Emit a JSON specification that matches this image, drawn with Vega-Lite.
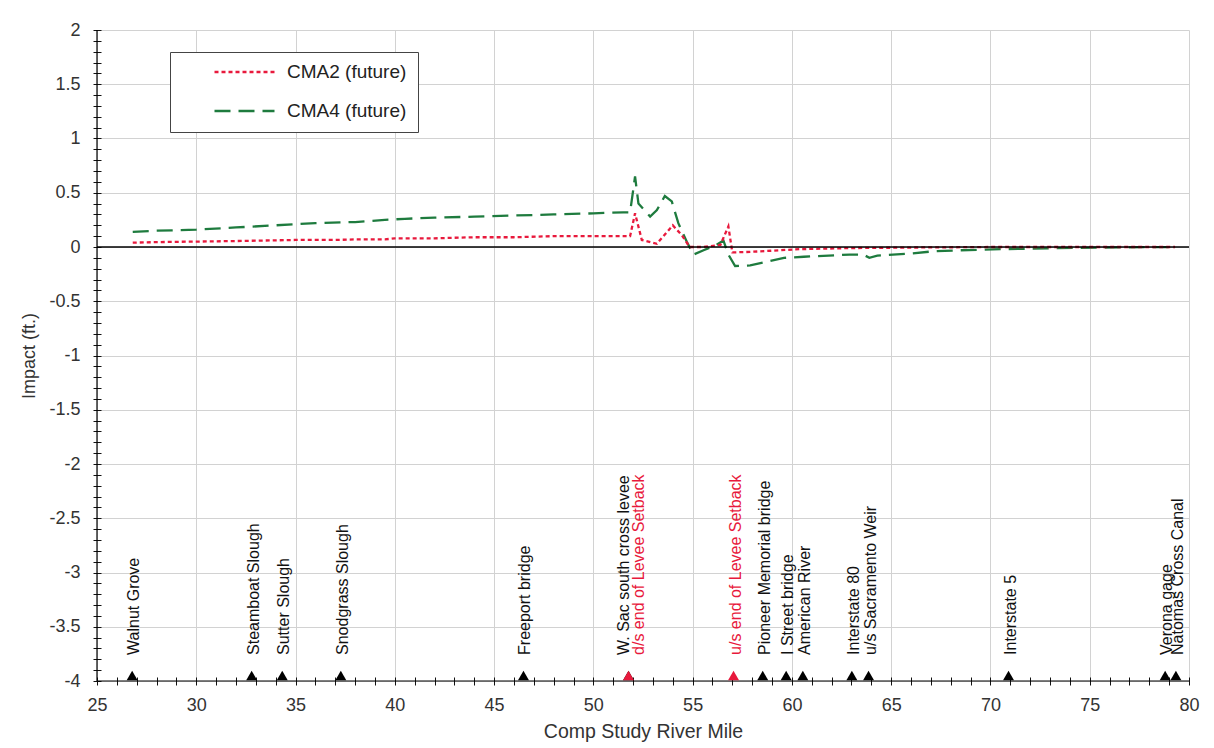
{
  "$schema": "https://vega.github.io/schema/vega-lite/v6.json",
  "width": 1092,
  "height": 651,
  "autosize": {"type": "none"},
  "padding": {"left": 97, "top": 30, "right": 25, "bottom": 67},
  "background": "white",
  "config": {"font": "Liberation Sans", "view": {"stroke": null}},
  "resolve": {"axis": {"x": "independent", "y": "independent"}},
  "datasets": {
    "lines": [
      {"series": "CMA4 (future)", "mile": 26.8, "impact": 0.14},
      {"series": "CMA4 (future)", "mile": 28, "impact": 0.15},
      {"series": "CMA4 (future)", "mile": 30, "impact": 0.16},
      {"series": "CMA4 (future)", "mile": 32, "impact": 0.18},
      {"series": "CMA4 (future)", "mile": 34, "impact": 0.2},
      {"series": "CMA4 (future)", "mile": 35, "impact": 0.21},
      {"series": "CMA4 (future)", "mile": 36, "impact": 0.22},
      {"series": "CMA4 (future)", "mile": 38, "impact": 0.23},
      {"series": "CMA4 (future)", "mile": 39.5, "impact": 0.25},
      {"series": "CMA4 (future)", "mile": 40.5, "impact": 0.26},
      {"series": "CMA4 (future)", "mile": 42, "impact": 0.27},
      {"series": "CMA4 (future)", "mile": 44, "impact": 0.28},
      {"series": "CMA4 (future)", "mile": 46, "impact": 0.29},
      {"series": "CMA4 (future)", "mile": 48, "impact": 0.3},
      {"series": "CMA4 (future)", "mile": 50, "impact": 0.31},
      {"series": "CMA4 (future)", "mile": 51.5, "impact": 0.32},
      {"series": "CMA4 (future)", "mile": 51.85, "impact": 0.32},
      {"series": "CMA4 (future)", "mile": 52.1, "impact": 0.65},
      {"series": "CMA4 (future)", "mile": 52.27, "impact": 0.4},
      {"series": "CMA4 (future)", "mile": 52.86, "impact": 0.28},
      {"series": "CMA4 (future)", "mile": 53.2, "impact": 0.34},
      {"series": "CMA4 (future)", "mile": 53.6, "impact": 0.47},
      {"series": "CMA4 (future)", "mile": 53.95, "impact": 0.42},
      {"series": "CMA4 (future)", "mile": 54.28, "impact": 0.22},
      {"series": "CMA4 (future)", "mile": 54.7, "impact": 0.05},
      {"series": "CMA4 (future)", "mile": 55.04, "impact": -0.07},
      {"series": "CMA4 (future)", "mile": 55.55, "impact": -0.03},
      {"series": "CMA4 (future)", "mile": 56.2, "impact": 0.02},
      {"series": "CMA4 (future)", "mile": 56.55, "impact": 0.06},
      {"series": "CMA4 (future)", "mile": 56.8, "impact": -0.07},
      {"series": "CMA4 (future)", "mile": 57.14, "impact": -0.175},
      {"series": "CMA4 (future)", "mile": 57.9, "impact": -0.17},
      {"series": "CMA4 (future)", "mile": 59.6, "impact": -0.1},
      {"series": "CMA4 (future)", "mile": 60.6, "impact": -0.09},
      {"series": "CMA4 (future)", "mile": 62.9, "impact": -0.07},
      {"series": "CMA4 (future)", "mile": 63.6, "impact": -0.07},
      {"series": "CMA4 (future)", "mile": 63.9, "impact": -0.1},
      {"series": "CMA4 (future)", "mile": 64.3, "impact": -0.08},
      {"series": "CMA4 (future)", "mile": 66, "impact": -0.06},
      {"series": "CMA4 (future)", "mile": 67.1, "impact": -0.04},
      {"series": "CMA4 (future)", "mile": 68.5, "impact": -0.03},
      {"series": "CMA4 (future)", "mile": 70.5, "impact": -0.02},
      {"series": "CMA4 (future)", "mile": 72, "impact": -0.015},
      {"series": "CMA4 (future)", "mile": 75.5, "impact": -0.005},
      {"series": "CMA4 (future)", "mile": 79.3, "impact": 0},
      {"series": "CMA2 (future)", "mile": 26.8, "impact": 0.04},
      {"series": "CMA2 (future)", "mile": 28, "impact": 0.045},
      {"series": "CMA2 (future)", "mile": 30, "impact": 0.05},
      {"series": "CMA2 (future)", "mile": 32, "impact": 0.055},
      {"series": "CMA2 (future)", "mile": 35, "impact": 0.065},
      {"series": "CMA2 (future)", "mile": 37, "impact": 0.065},
      {"series": "CMA2 (future)", "mile": 38, "impact": 0.07},
      {"series": "CMA2 (future)", "mile": 39.5, "impact": 0.07},
      {"series": "CMA2 (future)", "mile": 40, "impact": 0.08},
      {"series": "CMA2 (future)", "mile": 42, "impact": 0.08},
      {"series": "CMA2 (future)", "mile": 44, "impact": 0.09},
      {"series": "CMA2 (future)", "mile": 46, "impact": 0.09},
      {"series": "CMA2 (future)", "mile": 48, "impact": 0.1},
      {"series": "CMA2 (future)", "mile": 50, "impact": 0.1},
      {"series": "CMA2 (future)", "mile": 51.85, "impact": 0.1},
      {"series": "CMA2 (future)", "mile": 52.1, "impact": 0.31},
      {"series": "CMA2 (future)", "mile": 52.44, "impact": 0.065},
      {"series": "CMA2 (future)", "mile": 53.2, "impact": 0.03},
      {"series": "CMA2 (future)", "mile": 54.0, "impact": 0.2},
      {"series": "CMA2 (future)", "mile": 54.45, "impact": 0.11},
      {"series": "CMA2 (future)", "mile": 54.85, "impact": 0.0},
      {"series": "CMA2 (future)", "mile": 55.55, "impact": 0.0},
      {"series": "CMA2 (future)", "mile": 56.4, "impact": 0.02},
      {"series": "CMA2 (future)", "mile": 56.8, "impact": 0.19},
      {"series": "CMA2 (future)", "mile": 57.0, "impact": -0.05},
      {"series": "CMA2 (future)", "mile": 57.9, "impact": -0.045},
      {"series": "CMA2 (future)", "mile": 60.4, "impact": -0.02},
      {"series": "CMA2 (future)", "mile": 62.9, "impact": -0.01},
      {"series": "CMA2 (future)", "mile": 66, "impact": -0.005},
      {"series": "CMA2 (future)", "mile": 70, "impact": 0.0},
      {"series": "CMA2 (future)", "mile": 79.3, "impact": 0.0}
    ],
    "marks": [
      {"name": "Walnut Grove", "mile": 26.77, "kind": "landmark"},
      {"name": "Steamboat Slough", "mile": 32.79, "kind": "landmark"},
      {"name": "Sutter Slough", "mile": 34.33, "kind": "landmark"},
      {"name": "Snodgrass Slough", "mile": 37.28, "kind": "landmark"},
      {"name": "Freeport bridge", "mile": 46.48, "kind": "landmark"},
      {"name": "W. Sac south cross levee", "mile": 51.77, "kind": "landmark"},
      {"name": "Pioneer Memorial bridge", "mile": 58.53, "kind": "landmark"},
      {"name": "I Street bridge", "mile": 59.71, "kind": "landmark"},
      {"name": "American River", "mile": 60.55, "kind": "landmark"},
      {"name": "Interstate 80", "mile": 63.02, "kind": "landmark"},
      {"name": "u/s Sacramento Weir", "mile": 63.86, "kind": "landmark"},
      {"name": "Interstate 5", "mile": 70.91, "kind": "landmark"},
      {"name": "Verona gage", "mile": 78.8, "kind": "landmark"},
      {"name": "Natomas Cross Canal", "mile": 79.34, "kind": "landmark"},
      {"name": "d/s end of Levee Setback", "mile": 51.77, "kind": "setback"},
      {"name": "u/s end of Levee Setback", "mile": 57.06, "kind": "setback"}
    ]
  },
  "layer": [
    {
      "data": {"name": "lines"},
      "mark": {"type": "line", "strokeWidth": 2.3},
      "encoding": {
        "x": {
          "field": "mile", "type": "quantitative",
          "scale": {"domain": [25, 80], "nice": false, "zero": false},
          "axis": {
            "orient": "bottom",
            "values": [25, 30, 35, 40, 45, 50, 55, 60, 65, 70, 75, 80],
            "format": "d",
            "grid": true,
            "gridColor": "#d2d2d2",
            "domain": false,
            "offset": -4,
            "tickSize": 8,
            "tickColor": "#111",
            "labelFlush": false,
            "labelOverlap": false,
            "labelFontSize": 18,
            "labelColor": "#333",
            "labelPadding": 11,
            "title": "Comp Study River Mile",
            "titleFontSize": 19.5,
            "titleFontWeight": "normal",
            "titleColor": "#333",
            "titlePadding": 8
          }
        },
        "y": {
          "field": "impact", "type": "quantitative",
          "scale": {"domain": [-4, 2], "nice": false, "zero": false},
          "axis": {
            "orient": "left",
            "values": [-4, -3.5, -3, -2.5, -2, -1.5, -1, -0.5, 0, 0.5, 1, 1.5, 2],
            "labelExpr": "'' + datum.value",
            "grid": true,
            "gridColor": "#d2d2d2",
            "domain": false,
            "offset": -4,
            "tickSize": 8,
            "tickColor": "#111",
            "labelFlush": false,
            "labelOverlap": false,
            "labelFontSize": 18,
            "labelColor": "#333",
            "labelPadding": 13,
            "title": "Impact (ft.)",
            "titleFontSize": 18,
            "titleFontWeight": "normal",
            "titleColor": "#333",
            "titlePadding": 10
          }
        },
        "color": {
          "field": "series", "type": "nominal",
          "scale": {"domain": ["CMA2 (future)", "CMA4 (future)"], "range": ["#e8193c", "#1e7b3e"]},
          "legend": {
            "orient": "none", "legendX": 73, "legendY": 22, "title": null,
            "symbolType": "stroke", "symbolSize": 3600, "symbolStrokeWidth": 2.5, "clipHeight": 18,
            "labelFontSize": 19, "labelOffset": 11, "labelColor": "#222",
            "rowPadding": 20, "padding": 11, "symbolOffset": 32,
            "strokeColor": "#444", "fillColor": "white"
          }
        },
        "strokeDash": {
          "field": "series", "type": "nominal",
          "scale": {"domain": ["CMA2 (future)", "CMA4 (future)"], "range": [[4, 3], [16, 8]]},
          "legend": {
            "orient": "none", "legendX": 73, "legendY": 22, "title": null,
            "symbolType": "stroke", "symbolSize": 3600, "symbolStrokeWidth": 2.5, "clipHeight": 18,
            "labelFontSize": 19, "labelOffset": 11, "labelColor": "#222",
            "rowPadding": 20, "padding": 11, "symbolOffset": 32,
            "strokeColor": "#444", "fillColor": "white"
          }
        },
        "order": {"field": "mile", "type": "quantitative"}
      }
    },
    {
      "data": {"values": [{}]},
      "mark": {"type": "rule", "color": "#000", "strokeWidth": 1.5},
      "encoding": {"y": {"datum": 0, "type": "quantitative", "axis": null}}
    },
    {
      "data": {"values": [{}]},
      "mark": {"type": "rule", "color": "#000", "strokeWidth": 1.2},
      "encoding": {"y": {"datum": -4, "type": "quantitative", "axis": null}}
    },
    {
      "data": {"values": [{}]},
      "mark": {"type": "rule", "color": "#000", "strokeWidth": 1.2},
      "encoding": {"x": {"datum": 25, "type": "quantitative", "axis": null}}
    },
    {
      "data": {"name": "marks"},
      "mark": {"type": "point", "shape": "triangle-up", "filled": true, "size": 120, "opacity": 1},
      "encoding": {
        "x": {
          "field": "mile", "type": "quantitative",
          "axis": {
            "orient": "bottom",
            "values": [26,27,28,29,31,32,33,34,36,37,38,39,41,42,43,44,46,47,48,49,51,52,53,54,56,57,58,59,61,62,63,64,66,67,68,69,71,72,73,74,76,77,78,79],
            "labels": false, "grid": false, "domain": false, "title": null,
            "offset": -4, "tickSize": 8, "tickColor": "#111"
          }
        },
        "y": {
          "datum": -3.95, "type": "quantitative",
          "axis": {
            "orient": "left",
            "values": [-3.9,-3.8,-3.7,-3.6,-3.4,-3.3,-3.2,-3.1,-2.9,-2.8,-2.7,-2.6,-2.4,-2.3,-2.2,-2.1,-1.9,-1.8,-1.7,-1.6,-1.4,-1.3,-1.2,-1.1,-0.9,-0.8,-0.7,-0.6,-0.4,-0.3,-0.2,-0.1,0.1,0.2,0.3,0.4,0.6,0.7,0.8,0.9,1.1,1.2,1.3,1.4,1.6,1.7,1.8,1.9],
            "labels": false, "grid": false, "domain": false, "title": null,
            "offset": -4, "tickSize": 8, "tickColor": "#111"
          }
        },
        "color": {"condition": {"test": "datum.kind === 'setback'", "value": "#e8193c"}, "value": "#000"}
      }
    },
    {
      "data": {"name": "marks"},
      "transform": [{"filter": "datum.name !== 'W. Sac south cross levee' && datum.name !== 'd/s end of Levee Setback'"}],
      "mark": {"type": "text", "angle": 270, "align": "left", "baseline": "middle", "fontSize": 16, "dy": 2},
      "encoding": {
        "x": {"field": "mile", "type": "quantitative", "axis": null},
        "y": {"datum": -3.76, "type": "quantitative", "axis": null},
        "text": {"field": "name"},
        "color": {"condition": {"test": "datum.kind === 'setback'", "value": "#e8193c"}, "value": "#111"}
      }
    },
    {
      "data": {"name": "marks"},
      "transform": [{"filter": "datum.name === 'W. Sac south cross levee'"}],
      "mark": {"type": "text", "angle": 270, "align": "left", "baseline": "middle", "fontSize": 16, "dy": -5, "color": "#111"},
      "encoding": {
        "x": {"field": "mile", "type": "quantitative", "axis": null},
        "y": {"datum": -3.76, "type": "quantitative", "axis": null},
        "text": {"field": "name"}
      }
    },
    {
      "data": {"name": "marks"},
      "transform": [{"filter": "datum.name === 'd/s end of Levee Setback'"}],
      "mark": {"type": "text", "angle": 270, "align": "left", "baseline": "middle", "fontSize": 16, "dy": 10, "color": "#e8193c"},
      "encoding": {
        "x": {"field": "mile", "type": "quantitative", "axis": null},
        "y": {"datum": -3.76, "type": "quantitative", "axis": null},
        "text": {"field": "name"}
      }
    }
  ]
}
